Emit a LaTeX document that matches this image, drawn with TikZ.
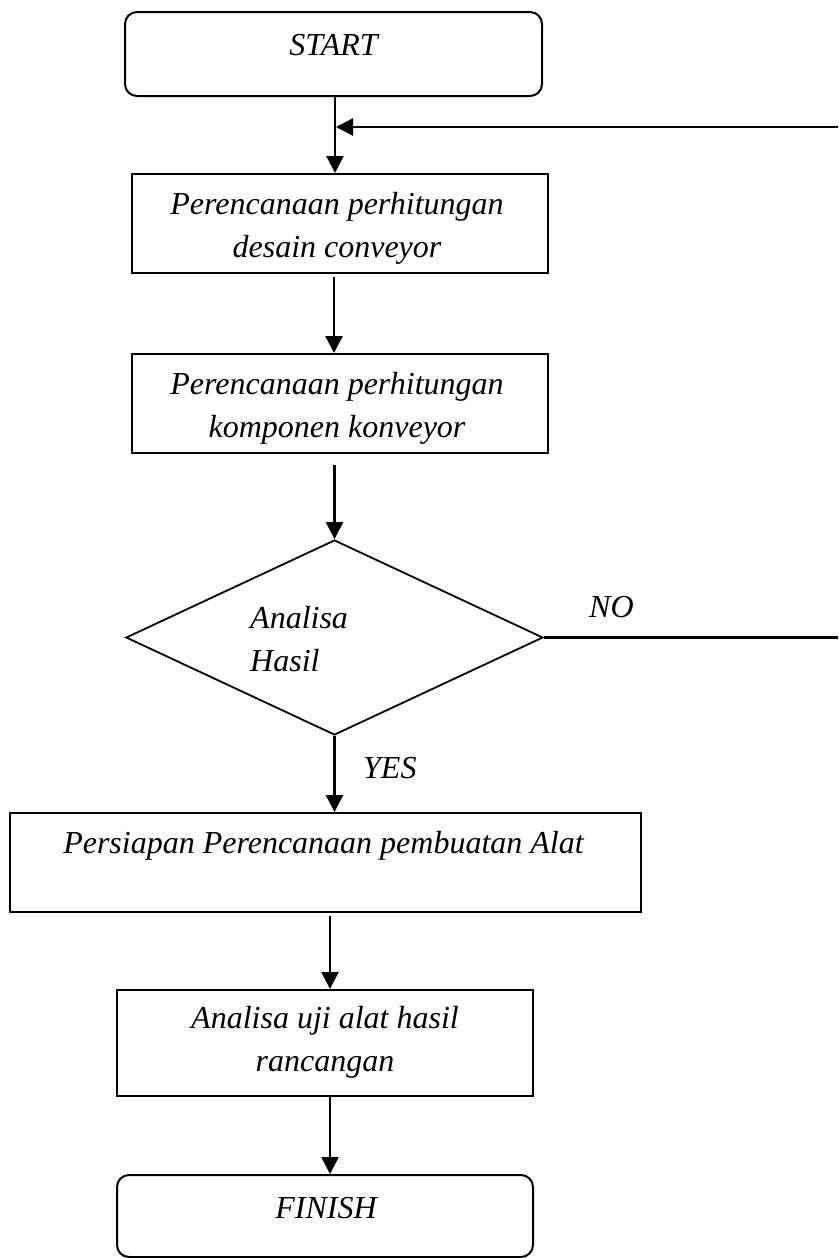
\documentclass[tikz,border=0pt]{standalone}
\usepackage{fontspec}
\setmainfont{Liberation Serif}
\usetikzlibrary{shapes.geometric,arrows.meta,calc}
\begin{document}
\begin{tikzpicture}[x=1pt,y=-1pt,
  boxline/.style={draw=black,line width=2pt,inner sep=0pt},
  procbox/.style={boxline,rectangle},
  termbox/.style={boxline,rectangle,rounded corners=12pt},
  decbox/.style={boxline,diamond,aspect=2.14,line width=1.8pt},
  txt/.style={font=\fontsize{32}{43}\selectfont\itshape,inner sep=0pt,align=center,anchor=base},
  ltxt/.style={font=\fontsize{32}{43}\selectfont\itshape,inner sep=0pt,align=left,anchor=base west},
  arr/.style={draw=black,line width=2.4pt,-{Triangle[length=17pt,width=17pt]}},
  plain/.style={draw=black,line width=2.4pt}]
\useasboundingbox (0,0) rectangle (838,1258);

% boxes
\node[termbox,minimum width=417pt,minimum height=84pt] (start) at (333.5,54) {};
\node[procbox,minimum width=416pt,minimum height=99pt] (p1) at (340,223.5) {};
\node[procbox,minimum width=416pt,minimum height=99pt] (p2) at (340,403.5) {};
\node[decbox,minimum width=417pt,minimum height=195pt] (dec) at (334.5,637.5) {};
\node[procbox,minimum width=631pt,minimum height=99pt] (p3) at (325.5,862.5) {};
\node[procbox,minimum width=416pt,minimum height=106pt] (p4) at (325,1043) {};
\node[termbox,minimum width=416pt,minimum height=82pt] (finish) at (325,1216) {};

% texts (multi-line nodes are anchored at the baseline of their last line)
\node[txt] (tstart) at (333.5,55) {START};
\node[txt] (tp1) at (337,257) {Perencanaan perhitungan\\desain conveyor};
\node[txt] (tp2) at (337,437) {Perencanaan perhitungan\\komponen konveyor};
\node[ltxt] (tdec) at (250,671) {Analisa\\Hasil};
\node[ltxt] (tno) at (589,617) {NO};
\node[ltxt] (tyes) at (363,778) {YES};
\node[txt] (tp3) at (323.5,853) {Persiapan Perencanaan pembuatan Alat};
\node[txt] (tp4) at (325,1071) {Analisa uji alat hasil\\rancangan};
\node[txt] (tfinish) at (326,1218) {FINISH};

% helper coordinates
\coordinate (colA) at (335,0);
\coordinate (colB) at (334,0);
\coordinate (colC) at (330,0);
\coordinate (join) at (336,127);
\coordinate (fbstart) at (838,127);
\coordinate (noend) at (838,0);

% connectors
\draw[arr] (start.south -| colA) -- (p1.north -| colA);
\draw[arr] (fbstart) -- (join);
\draw[arr] ([yshift=-3pt]p1.south -| colB) -- (p2.north -| colB);
\draw[arr] ([yshift=-11pt]p2.south -| dec.north) -- (dec.north);
\draw[arr] (dec.south) -- (p3.north -| dec.south);
\draw[plain] (dec.east) -- (dec.east -| noend);
\draw[arr] ([yshift=-3pt]p3.south -| colC) -- (p4.north -| colC);
\draw[arr] (p4.south -| colC) -- (finish.north -| colC);
\end{tikzpicture}
\end{document}
